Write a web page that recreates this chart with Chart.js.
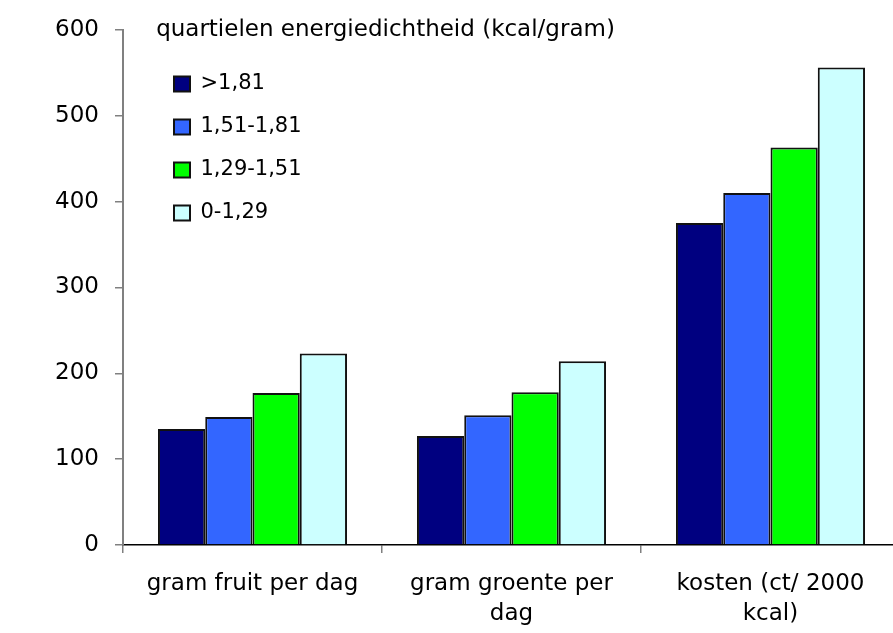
<!DOCTYPE html>
<html>
<head>
<meta charset="utf-8">
<script src="https://cdn.jsdelivr.net/npm/chart.js@4/dist/chart.umd.min.js"></script>
<style>
  html, body { margin: 0; padding: 0; background: #fff; overflow: hidden; }
  #wrap { position: absolute; left: 0; top: 0; width: 905px; height: 633px; }
</style>
</head>
<body>
<div id="wrap"><canvas id="chart"></canvas></div>
<script>
const categories = [['gram fruit per dag'], ['gram groente per', 'dag'], ['kosten (ct/ 2000', 'kcal)']];
const seriesNames = ['>1,81', '1,51-1,81', '1,29-1,51', '0-1,29'];
const q1 = [135, 127, 375];   // >1,81
const q2 = [149, 151, 410];   // 1,51-1,81
const q3 = [177, 178, 463];   // 1,29-1,51
const q4 = [223, 214, 556];   // 0-1,29
const yTicks = [0, 100, 200, 300, 400, 500, 600];
const legendTitle = 'quartielen energiedichtheid (kcal/gram)';

const colors = ['#000080', '#3366ff', '#00ff00', '#ccffff'];
const font = 'DejaVu Sans';

function makeSet(label, data, i) {
    return {
        label: label,
        data: data,
        backgroundColor: colors[i],
        borderColor: '#111',
        borderWidth: 2,
        borderSkipped: 'bottom',
        categoryPercentage: 0.73,
        barPercentage: 1.0
    };
}

// put the legend where the original has it, inside the plot
const legendSpot = {
    id: 'legendSpot',
    afterUpdate(chart) {
        const lg = chart.legend;
        lg.left = 152;
        lg.top = 18.5;
        lg.width = 467;
        lg.right = lg.left + lg.width;
    }
};

new Chart(document.getElementById('chart'), {
    type: 'bar',
    data: {
        labels: categories,
        datasets: [
            makeSet(seriesNames[0], q1, 0),
            makeSet(seriesNames[1], q2, 1),
            makeSet(seriesNames[2], q3, 2),
            makeSet(seriesNames[3], q4, 3)
        ]
    },
    options: {
        responsive: true,
        maintainAspectRatio: false,
        animation: false,
        layout: { padding: { top: 29, right: 5, left: 0, bottom: 0 } },
        plugins: {
            tooltip: { enabled: false },
            legend: {
                position: 'chartArea',
                align: 'start',
                title: {
                    display: true,
                    text: legendTitle,
                    position: 'center',
                    color: '#000',
                    font: { family: font, size: 23 },
                    padding: { top: 0, bottom: 5.4 }
                },
                labels: {
                    color: '#000',
                    font: { family: font, size: 21 },
                    boxWidth: 16,
                    boxHeight: 15,
                    padding: 22
                }
            }
        },
        scales: {
            x: {
                grid: { display: true, drawOnChartArea: false, offset: true, tickLength: 8, color: '#808080', lineWidth: 1.5 },
                border: { color: '#000', width: 1.5 },
                ticks: { color: '#000', font: { family: font, size: 23, lineHeight: 1.3 }, padding: 16, maxRotation: 0 },
                afterFit(scale) { scale.height = 88; }
            },
            y: {
                min: 0,
                max: 600,
                afterBuildTicks(scale) { scale.ticks = yTicks.map(v => ({ value: v })); },
                grid: { display: true, drawOnChartArea: false, tickLength: 8, color: '#808080', lineWidth: 1.5 },
                border: { color: '#808080', width: 2 },
                ticks: { color: '#000', font: { family: font, size: 23 }, padding: 16 },
                afterFit(scale) { scale.width = 123; }
            }
        }
    },
    plugins: [legendSpot]
});
</script>
</body>
</html>
